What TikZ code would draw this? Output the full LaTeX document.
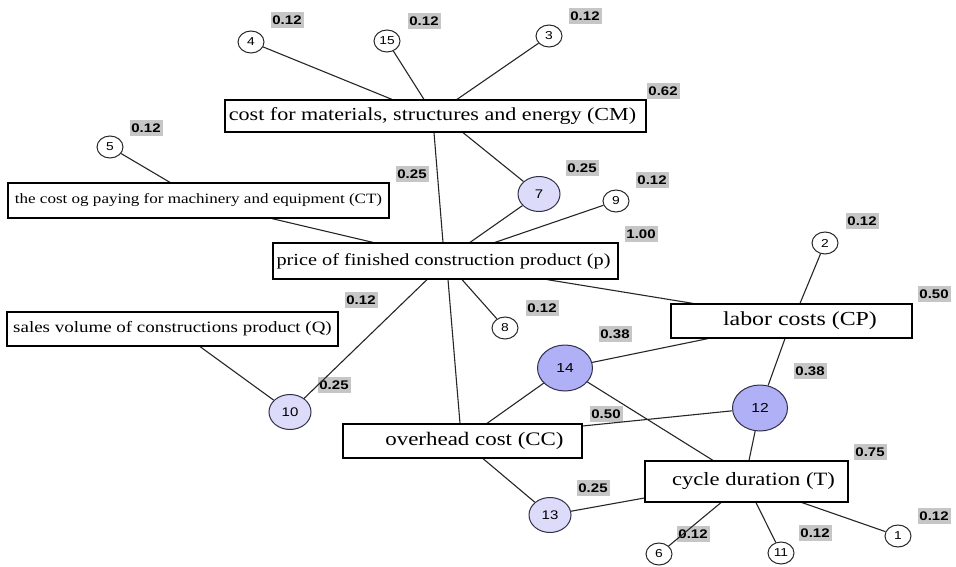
\documentclass[tikz,border=0pt]{standalone}
\usepackage{graphicx}
\usepackage{fontspec}
\setmainfont{Liberation Serif}
\newfontfamily\labfont{Liberation Sans}
\usetikzlibrary{shapes.geometric}
\definecolor{lightc}{HTML}{DCDCFA}
\definecolor{darkc}{HTML}{B0B0F6}
\definecolor{rimc}{HTML}{30304A}
\newcommand{\hs}[1]{\scalebox{1.2}[1]{#1}}
\pgfdeclarelayer{lab}
\pgfdeclarelayer{edg}
\pgfsetlayers{lab,edg,main}
\begin{document}
\begin{tikzpicture}[x=1pt,y=-1pt,
  box/.style={draw=black, fill=white, line width=1.2pt, inner sep=0pt},
  sc/.style={ellipse, draw=black!85, line width=1pt, fill=white, minimum width=26pt, minimum height=22pt, inner sep=0pt, font=\labfont\fontsize{11.5}{11.5}\selectfont},
  mc/.style={sc, fill=lightc, draw=rimc, minimum width=42pt, minimum height=35pt, font=\labfont\fontsize{12.5}{12.5}\selectfont},
  bc/.style={sc, fill=darkc, draw=rimc, minimum width=55pt, minimum height=46pt, font=\labfont\fontsize{13}{13}\selectfont},
  wt/.style={fill=gray!45, minimum width=33pt, minimum height=16pt, inner sep=0pt, font=\labfont\bfseries\fontsize{12.5}{12.5}\selectfont},
  link/.style={draw=black!85, line width=1.1pt}]
\useasboundingbox (0,0) rectangle (956,567);

% boxes
\node[box, minimum width=421pt, minimum height=32pt, font=\fontsize{18.4}{20}\selectfont] (CM) at (435.5,116) {\hs{cost for materials, structures and energy (CM)}\hspace*{6pt}};
\node[box, minimum width=381pt, minimum height=35pt, font=\fontsize{14.2}{16}\selectfont] (CT) at (198.5,200.5) {\hs{the cost og paying for machinery and equipment (CT)}};
\node[box, minimum width=345pt, minimum height=36pt, font=\fontsize{16.9}{18}\selectfont] (p) at (445.5,261) {\hs{price of finished construction product (p)}\hspace*{4pt}};
\node[box, minimum width=331pt, minimum height=34pt, font=\fontsize{15.8}{18}\selectfont] (Q) at (172.5,329) {\hs{sales volume of constructions product (Q)}};
\node[box, minimum width=241pt, minimum height=34pt, font=\fontsize{19.9}{22}\selectfont] (CP) at (791.5,321) {\hspace*{17pt}\hs{labor costs (CP)}};
\node[box, minimum width=239pt, minimum height=34pt, font=\fontsize{19.1}{22}\selectfont] (CC) at (462.5,441) {\hspace*{24pt}\hs{overhead cost (CC)}};
\node[box, minimum width=203pt, minimum height=41pt, font=\fontsize{18.8}{22}\selectfont] (T) at (746.5,481.5) {\hspace*{14pt}\hs{cycle duration (T)}};

% circles
\node[sc] (n4) at (251,42) {\hs{4}};
\node[sc] (n15) at (387,41) {\hs{15}};
\node[sc] (n3) at (549,36) {\hs{3}};
\node[sc] (n5) at (110,147) {\hs{5}};
\node[mc] (n7) at (539,194) {\hs{7}};
\node[sc] (n9) at (616,201) {\hs{9}};
\node[sc] (n2) at (825,243) {\hs{2}};
\node[sc] (n8) at (505,328) {\hs{8}};
\node[bc] (n14) at (565,368) {\hs{14}};
\node[mc] (n10) at (290,412) {\hs{10}};
\node[bc] (n12) at (760,408) {\hs{12}};
\node[mc] (n13) at (550,515) {\hs{13}};
\node[sc] (n6) at (659,554) {\hs{6}};
\node[sc] (n11) at (781,553) {\hs{11}};
\node[sc] (n1) at (898,536) {\hs{1}};

% weights
\begin{pgfonlayer}{lab}
\node[wt] (w4) at (287,20) {\hs{0.12}};
\node[wt] (w15) at (424,21) {\hs{0.12}};
\node[wt] (w3) at (585,16) {\hs{0.12}};
\node[wt] (wCM) at (663,91) {\hs{0.62}};
\node[wt] (w5) at (146,128) {\hs{0.12}};
\node[wt] (wCT) at (412,174) {\hs{0.25}};
\node[wt] (w7) at (582,168) {\hs{0.25}};
\node[wt] (w9) at (652,180) {\hs{0.12}};
\node[wt] (wp) at (641,234) {\hs{1.00}};
\node[wt] (w2) at (862,221) {\hs{0.12}};
\node[wt] (wCP) at (934,294) {\hs{0.50}};
\node[wt] (wQ) at (361,300) {\hs{0.12}};
\node[wt] (w8) at (542,308) {\hs{0.12}};
\node[wt] (w14) at (615,334) {\hs{0.38}};
\node[wt] (w10) at (334,385) {\hs{0.25}};
\node[wt] (w12) at (810,371) {\hs{0.38}};
\node[wt] (wCC) at (606,414) {\hs{0.50}};
\node[wt] (wT) at (870,452) {\hs{0.75}};
\node[wt] (w13) at (593,488) {\hs{0.25}};
\node[wt] (w6) at (693,534) {\hs{0.12}};
\node[wt] (w11) at (815,533) {\hs{0.12}};
\node[wt] (w1) at (934,516) {\hs{0.12}};
\end{pgfonlayer}

% connectors
\begin{pgfonlayer}{edg}
\draw[link] (n4) -- ([xshift=-43.5pt]CM.north);
\draw[link] (n15) -- ([xshift=-11.5pt]CM.north);
\draw[link] (n3) -- ([xshift=21.5pt]CM.north);
\draw[link] ([xshift=27.5pt]CM.south) -- (n7);
\draw[link] ([xshift=-1.5pt]CM.south) -- ([xshift=-2.5pt]p.north);
\draw[link] ([xshift=2.5pt]p.south) -- ([xshift=-2.5pt]CC.north);
\draw[link] (n5) -- ([xshift=-28.5pt]CT.north);
\draw[link] ([xshift=73.5pt]CT.south) -- ([xshift=-72.5pt]p.north);
\draw[link] (n7) -- ([xshift=24.5pt]p.north);
\draw[link] (n9) -- ([xshift=49.5pt]p.north);
\draw[link] ([xshift=101.5pt]p.south) -- ([xshift=-98.5pt]CP.north);
\draw[link] ([xshift=16.5pt]p.south) -- (n8);
\draw[link] ([xshift=-18.5pt]p.south) -- (n10);
\draw[link] ([xshift=27.5pt]Q.south) -- (n10);
\draw[link] (n2) -- ([xshift=8.5pt]CP.north);
\draw[link] ([xshift=-83.5pt]CP.south) -- (n14);
\draw[link] ([xshift=-6.5pt]CP.south) -- (n12);
\draw[link] (n14) -- ([xshift=24.5pt]CC.north);
\draw[link] (n12) -- ([yshift=15pt]CC.east);
\draw[link] ([xshift=20.5pt]CC.south) -- (n13);
\draw[link] (n14) -- ([xshift=-33.5pt]T.north);
\draw[link] (n12) -- ([xshift=2.5pt]T.north);
\draw[link] (n13) -- ([yshift=-16.5pt]T.west);
\draw[link] ([xshift=-25.5pt]T.south) -- (n6);
\draw[link] ([xshift=9.5pt]T.south) -- (n11);
\draw[link] ([xshift=55.5pt]T.south) -- (n1);
\end{pgfonlayer}
\end{tikzpicture}
\end{document}
